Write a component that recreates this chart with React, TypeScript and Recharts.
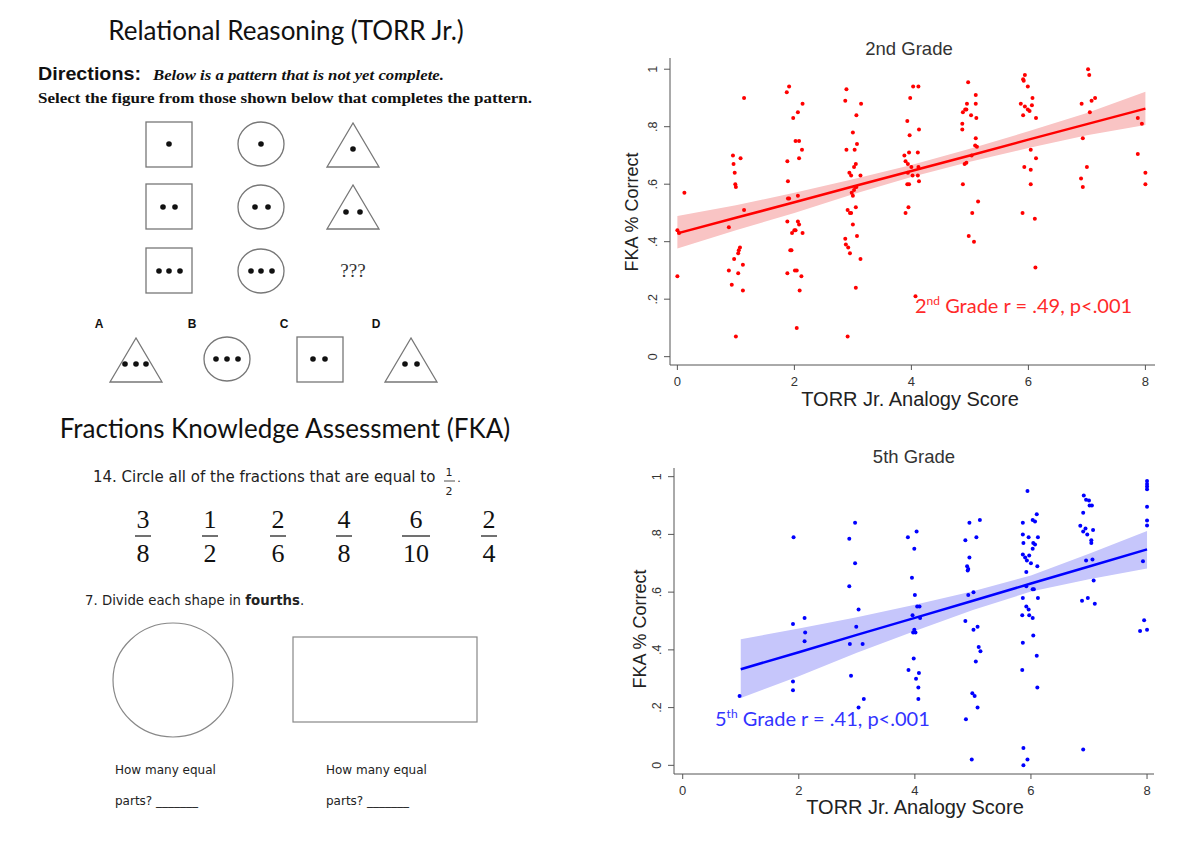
import React from 'react';
import { ComposedChart, Scatter, Line, Area, XAxis, YAxis } from 'recharts';

// axis ticks shared by both panels
const xTicks = [0, 2, 4, 6, 8];
const yTicks = [0, 0.2, 0.4, 0.6, 0.8, 1];

// 2nd grade: [TORR Jr. analogy score (jittered), FKA % correct]
const grade2Points: [number, number][] = [
  [0, 0.44], [0.03, 0.43], [0.12, 0.57], [0, 0.28],
  [1.14, 0.9], [0.95, 0.7], [1.08, 0.69], [0.96, 0.67], [0.98, 0.64], [0.99, 0.6], [1.0, 0.59], [1.14, 0.51],
  [0.88, 0.45], [1.07, 0.38], [1.05, 0.37], [1.04, 0.36], [0.97, 0.34], [1.12, 0.32], [0.88, 0.3], [1.04, 0.29],
  [0.93, 0.25], [1.12, 0.23], [1.0, 0.07],
  [1.91, 0.94], [1.87, 0.92], [2.14, 0.88], [2.06, 0.85], [1.98, 0.83], [2.02, 0.75], [2.08, 0.75], [2.13, 0.72],
  [1.88, 0.68], [2.08, 0.69], [1.89, 0.61], [1.89, 0.55], [1.91, 0.55], [2.06, 0.56], [1.88, 0.47], [2.06, 0.47],
  [2.08, 0.46], [2.02, 0.44], [2.0, 0.44], [2.14, 0.43], [1.96, 0.43], [1.93, 0.37], [1.95, 0.37], [1.88, 0.29],
  [2.01, 0.3], [2.04, 0.3], [2.12, 0.28], [2.09, 0.23], [2.04, 0.1],
  [2.89, 0.93], [2.87, 0.89], [3.14, 0.88], [3.06, 0.84], [3.0, 0.78], [3.07, 0.74], [2.89, 0.72], [3.03, 0.72],
  [3.05, 0.67], [3.02, 0.66], [2.94, 0.64], [2.97, 0.63], [3.13, 0.63], [3.04, 0.59], [3.06, 0.59], [3.02, 0.58],
  [2.98, 0.57], [3.0, 0.56], [2.91, 0.51], [2.95, 0.5], [2.97, 0.5], [3.05, 0.52], [3.0, 0.46], [3.07, 0.42],
  [2.87, 0.41], [2.88, 0.39], [2.92, 0.38], [2.95, 0.36], [3.13, 0.34], [3.05, 0.24], [2.91, 0.07],
  [4.03, 0.94], [4.12, 0.94], [3.98, 0.9], [3.93, 0.82], [4.13, 0.79], [3.97, 0.77], [3.88, 0.7], [3.96, 0.71],
  [4.11, 0.71], [3.9, 0.68], [3.94, 0.67], [4.0, 0.66], [4.12, 0.66], [3.94, 0.64], [4.02, 0.63], [4.11, 0.63],
  [4.13, 0.61], [3.93, 0.6], [3.96, 0.6], [3.95, 0.52], [3.9, 0.5], [4.07, 0.21],
  [4.97, 0.955], [5.1, 0.91], [4.95, 0.88], [5.1, 0.88], [4.92, 0.86], [4.88, 0.85], [4.94, 0.86], [5.02, 0.84],
  [5.11, 0.83], [4.87, 0.81], [4.87, 0.79], [5.1, 0.76], [5.09, 0.735], [5.12, 0.73], [5.03, 0.7], [4.94, 0.675],
  [4.91, 0.67], [4.88, 0.6], [5.14, 0.54], [5.04, 0.5], [4.98, 0.42], [5.07, 0.4],
  [5.94, 0.98], [5.91, 0.965], [5.92, 0.96], [5.99, 0.94], [6.07, 0.9], [5.87, 0.88], [5.94, 0.87], [6.06, 0.875],
  [5.99, 0.86], [6.02, 0.855], [5.91, 0.84], [6.13, 0.83], [6.04, 0.72], [6.13, 0.69], [5.93, 0.66], [6.04, 0.65],
  [6.04, 0.6], [5.9, 0.5], [6.11, 0.48], [6.12, 0.31],
  [7.02, 1.0], [7.04, 0.98], [6.91, 0.88], [7.14, 0.9], [7.08, 0.89], [7.05, 0.85], [6.93, 0.76], [7.0, 0.66],
  [6.9, 0.62], [6.93, 0.59],
  [7.87, 0.83], [7.94, 0.81], [7.87, 0.705], [8.0, 0.64], [8.0, 0.6],
];

// 2nd grade fitted line and 95% CI, read at each score
const grade2FitX = [0, 1, 2, 3, 4, 5, 6, 7, 8];
const grade2Fit = [0.429, 0.483, 0.537, 0.592, 0.646, 0.7, 0.755, 0.809, 0.863];
const grade2Lo = [0.376, 0.44, 0.5, 0.565, 0.625, 0.678, 0.726, 0.77, 0.806];
const grade2Hi = [0.489, 0.527, 0.57, 0.617, 0.667, 0.723, 0.784, 0.848, 0.922];

// 5th grade: [TORR Jr. analogy score (jittered), FKA % correct]
const grade5Points: [number, number][] = [
  [0.98, 0.24],
  [1.91, 0.79], [1.9, 0.49], [2.1, 0.51], [2.11, 0.46], [2.1, 0.43], [1.9, 0.29], [1.9, 0.26],
  [2.97, 0.84], [2.87, 0.785], [2.97, 0.7], [2.87, 0.62], [3.03, 0.54], [2.99, 0.48], [2.88, 0.42], [3.1, 0.42],
  [2.9, 0.31], [3.12, 0.23], [3.03, 0.2],
  [4.03, 0.81], [3.88, 0.79], [3.99, 0.75], [3.95, 0.65], [4.0, 0.59], [4.04, 0.55], [4.08, 0.55], [3.96, 0.52],
  [4.09, 0.51], [3.99, 0.47], [3.97, 0.46], [4.01, 0.46], [3.98, 0.37], [3.89, 0.33], [4.07, 0.32], [4.02, 0.3],
  [4.06, 0.27], [4.06, 0.23],
  [4.94, 0.84], [5.12, 0.85], [4.87, 0.78], [5.06, 0.79], [4.94, 0.72], [4.9, 0.69], [4.92, 0.68], [4.91, 0.675],
  [4.92, 0.59], [5.01, 0.6], [4.87, 0.5], [5.01, 0.47], [5.08, 0.48], [5.1, 0.41], [5.13, 0.395], [5.05, 0.36],
  [4.99, 0.25], [5.03, 0.24], [5.08, 0.2], [4.88, 0.16], [4.98, 0.02],
  [5.94, 0.95], [5.86, 0.84], [6.1, 0.87], [6.03, 0.85], [6.07, 0.845], [5.86, 0.8], [5.96, 0.79], [6.12, 0.79],
  [5.87, 0.77], [6.04, 0.77], [6.07, 0.765], [6.03, 0.75], [5.86, 0.73], [5.97, 0.727], [5.9, 0.72], [5.93, 0.71],
  [6.0, 0.7], [6.11, 0.69], [5.92, 0.67], [5.92, 0.62], [6.03, 0.61], [6.05, 0.61], [5.86, 0.58], [6.12, 0.58],
  [5.92, 0.55], [5.96, 0.54], [5.85, 0.52], [5.97, 0.52], [6.03, 0.51], [6.04, 0.45], [5.86, 0.425], [6.1, 0.38],
  [5.85, 0.33], [6.11, 0.27], [5.87, 0.06], [5.94, 0.02], [5.87, 0.0],
  [6.91, 0.935], [6.95, 0.92], [7.0, 0.917], [7.05, 0.9], [7.01, 0.9], [6.9, 0.875], [6.85, 0.83], [6.94, 0.82],
  [6.9, 0.81], [6.97, 0.8], [7.07, 0.815], [7.04, 0.78], [7.04, 0.77], [6.95, 0.71], [7.06, 0.713], [7.08, 0.64],
  [6.88, 0.57], [6.98, 0.58], [7.1, 0.56], [6.9, 0.055],
  [8.0, 0.985], [8.0, 0.975], [8.0, 0.966], [8.0, 0.956], [8.0, 0.896], [8.0, 0.848], [8.0, 0.831], [7.93, 0.707],
  [7.88, 0.465], [7.95, 0.503], [8.0, 0.47],
];

const grade5FitX = [1, 2, 3, 4, 5, 6, 7, 8];
const grade5Fit = [0.333, 0.392, 0.452, 0.511, 0.57, 0.63, 0.689, 0.748];
const grade5Lo = [0.233, 0.309, 0.39, 0.465, 0.538, 0.602, 0.645, 0.682];
const grade5Hi = [0.437, 0.474, 0.513, 0.556, 0.603, 0.658, 0.733, 0.812];

const AXIS = '#555';
const ARIAL = '"Liberation Sans", Arial, sans-serif';
const CALIBRI = 'Lato, "Open Sans", sans-serif';
const SERIF = '"Liberation Serif", "Times New Roman", serif';
const COMIC = '"DejaVu Sans", sans-serif';

const fmtY = (v: number) => (v === 0 ? '0' : v === 1 ? '1' : String(v).replace(/^0/, ''));

const YTick = (props: any) => {
  const { x, y, payload } = props;
  const tx = x - 5;
  return (
    <text x={tx} y={y} transform={`rotate(-90, ${tx}, ${y})`} textAnchor="middle"
      fontSize={12.5} fill="#333" fontFamily={ARIAL}>
      {fmtY(payload.value)}
    </text>
  );
};

function GradePlot(props: any) {
  const { left, top, margin, xDomain, yDomain, points, fitX, fit, lo, hi, color, band } = props;
  const fitRows = fitX.map((x: number, i: number) => ({ x, fit: fit[i], band: [lo[i], hi[i]] }));
  const scatter = points.map(([x, y]: [number, number]) => ({ x, y }));
  return (
    <div style={{ position: 'absolute', left, top }}>
      <ComposedChart width={580} height={390} data={fitRows} margin={margin}>
        <XAxis type="number" dataKey="x" domain={xDomain} ticks={xTicks} allowDataOverflow
          height={30} tickSize={5} tickMargin={7}
          axisLine={{ stroke: AXIS }} tickLine={{ stroke: AXIS }}
          tick={{ fontSize: 13, fill: '#333', fontFamily: ARIAL }} />
        <YAxis type="number" dataKey="y" domain={yDomain} ticks={yTicks} allowDataOverflow
          width={40} tickSize={6} axisLine={{ stroke: AXIS }} tickLine={{ stroke: AXIS }}
          tick={<YTick />} />
        <Area dataKey="band" type="linear" fill={band} fillOpacity={1} stroke="none" isAnimationActive={false} />
        <Scatter data={scatter} fill={color} isAnimationActive={false}
          shape={(p: any) => <circle cx={p.cx} cy={p.cy} r={2} fill={color} />} />
        <Line dataKey="fit" type="linear" stroke={color} strokeWidth={2.5} dot={false} isAnimationActive={false} />
      </ComposedChart>
    </div>
  );
}

const Square = ({ x, y }: { x: number; y: number }) => (
  <rect x={x} y={y} width={46} height={45} fill="none" stroke="#777" strokeWidth={1.3} />
);
const Circ = ({ cx, cy }: { cx: number; cy: number }) => (
  <ellipse cx={cx} cy={cy} rx={23} ry={22} fill="none" stroke="#777" strokeWidth={1.3} />
);
const Tri = ({ cx, top }: { cx: number; top: number }) => (
  <polygon points={`${cx},${top} ${cx - 26},${top + 44} ${cx + 26},${top + 44}`} fill="none" stroke="#777" strokeWidth={1.3} />
);
const Dots = ({ xs, y }: { xs: number[]; y: number }) => (
  <g>{xs.map((x, i) => <circle key={i} cx={x} cy={y} r={2.8} fill="#111" />)}</g>
);

const Frac = ({ x, n, d }: { x: number; n: string; d: string }) => (
  <g fontFamily={SERIF} fontSize={26} fill="#111" textAnchor="middle">
    <text x={x} y={528}>{n}</text>
    <line x1={x - (d.length > 1 ? 14 : 8)} x2={x + (d.length > 1 ? 14 : 8)} y1={536} y2={536} stroke="#111" strokeWidth={1.2} />
    <text x={x} y={562}>{d}</text>
  </g>
);

export default function App() {
  return (
    <div style={{ position: 'absolute', left: 0, top: 0, width: 1191, height: 841, background: '#fff', overflow: 'hidden' }}>
      <GradePlot left={600} top={30} margin={{ top: 28, right: 25, left: 30, bottom: 25 }}
        xDomain={[-0.126, 8.164]} yDomain={[-0.029, 1.039]}
        points={grade2Points} fitX={grade2FitX} fit={grade2Fit} lo={grade2Lo} hi={grade2Hi}
        color="#ff0000" band="#f9c4c4" />
      <GradePlot left={600} top={440} margin={{ top: 28, right: 26, left: 34, bottom: 26 }}
        xDomain={[-0.15, 8.12]} yDomain={[-0.03, 1.03]}
        points={grade5Points} fitX={grade5FitX} fit={grade5Fit} lo={grade5Lo} hi={grade5Hi}
        color="#0000ff" band="#c6c6fb" />

      <svg width={1191} height={841} style={{ position: 'absolute', left: 0, top: 0, pointerEvents: 'none' }}>
        {/* chart titles and axis labels */}
        <text x={909} y={55} textAnchor="middle" fontFamily={ARIAL} fontSize={18.5} fill="#333">2nd Grade</text>
        <text x={914} y={463} textAnchor="middle" fontFamily={ARIAL} fontSize={18.5} fill="#333">5th Grade</text>
        <text x={910} y={406} textAnchor="middle" fontFamily={ARIAL} fontSize={20} fill="#222">TORR Jr. Analogy Score</text>
        <text x={915} y={814} textAnchor="middle" fontFamily={ARIAL} fontSize={20} fill="#222">TORR Jr. Analogy Score</text>
        <text x={638} y={212} transform="rotate(-90, 638, 212)" textAnchor="middle" fontFamily={ARIAL} fontSize={18} fill="#222">FKA % Correct</text>
        <text x={646} y={629} transform="rotate(-90, 646, 629)" textAnchor="middle" fontFamily={ARIAL} fontSize={18} fill="#222">FKA % Correct</text>
        <text x={915} y={313} fontFamily={CALIBRI} fontSize={20} fill="#ff2a2a">
          2<tspan dy={-8} fontSize={12}>nd</tspan><tspan dy={8}> Grade r = .49, p&lt;.001</tspan>
        </text>
        <text x={715} y={726} fontFamily={CALIBRI} fontSize={20} fill="#3333ff">
          5<tspan dy={-8} fontSize={12}>th</tspan><tspan dy={8}>{'  Grade r = .41, p<.001'}</tspan>
        </text>

        {/* Relational reasoning item */}
        <text x={286} y={40} textAnchor="middle" fontFamily={CALIBRI} fontSize={26} fill="#111">Relational Reasoning (TORR Jr.)</text>
        <text x={38} y={80} fontFamily={ARIAL} fontWeight="bold" fontSize={18.5} fill="#111" textLength={103} lengthAdjust="spacingAndGlyphs">Directions:</text>
        <text x={153} y={80} fontFamily={SERIF} fontWeight="bold" fontStyle="italic" fontSize={15.5} fill="#111" textLength={291} lengthAdjust="spacingAndGlyphs">Below is a pattern that is not yet complete.</text>
        <text x={38} y={103} fontFamily={SERIF} fontWeight="bold" fontSize={15.5} fill="#111" textLength={494} lengthAdjust="spacingAndGlyphs">Select the figure from those shown below that completes the pattern.</text>

        <Square x={146} y={122} /><Dots xs={[169]} y={144} />
        <Circ cx={261} cy={144} /><Dots xs={[261]} y={144} />
        <Tri cx={353} top={123} /><Dots xs={[353]} y={149} />

        <Square x={146} y={184} /><Dots xs={[163, 175]} y={207} />
        <Circ cx={261} cy={207} /><Dots xs={[255, 268]} y={207} />
        <Tri cx={353} top={185} /><Dots xs={[346, 360]} y={212} />

        <Square x={146} y={248} /><Dots xs={[159, 169, 180]} y={271} />
        <Circ cx={261} cy={271} /><Dots xs={[251, 261, 272]} y={271} />
        <text x={353} y={277} textAnchor="middle" fontFamily={SERIF} fontSize={19} fill="#333">???</text>

        <g fontFamily={ARIAL} fontWeight="bold" fontSize={12} fill="#111" textAnchor="middle">
          <text x={99} y={328}>A</text>
          <text x={192} y={328}>B</text>
          <text x={284} y={328}>C</text>
          <text x={376} y={328}>D</text>
        </g>
        <Tri cx={136} top={338} /><Dots xs={[125, 136, 146]} y={364} />
        <Circ cx={227} cy={359} /><Dots xs={[216, 227, 238]} y={359} />
        <Square x={297} y={337} /><Dots xs={[313, 325]} y={359} />
        <Tri cx={411} top={338} /><Dots xs={[405, 417]} y={364} />

        {/* Fractions knowledge items */}
        <text x={285} y={438} textAnchor="middle" fontFamily={CALIBRI} fontSize={26} fill="#111">Fractions Knowledge Assessment (FKA)</text>
        <text x={93} y={482} fontFamily={COMIC} fontSize={15} fill="#222">14.  Circle all of the fractions that are equal to</text>
        <g fontFamily={COMIC} fontSize={11} fill="#222" textAnchor="middle">
          <text x={449} y={476}>1</text>
          <line x1={444} x2={455} y1={481} y2={481} stroke="#222" strokeWidth={0.8} />
          <text x={449} y={495}>2</text>
          <text x={459} y={482}>.</text>
        </g>
        <Frac x={143} n="3" d="8" />
        <Frac x={210} n="1" d="2" />
        <Frac x={278} n="2" d="6" />
        <Frac x={344} n="4" d="8" />
        <Frac x={416} n="6" d="10" />
        <Frac x={489} n="2" d="4" />

        <text x={85} y={605} fontFamily={COMIC} fontSize={13.3} fill="#222">7.   Divide each shape in <tspan fontWeight="bold">fourths</tspan>.</text>
        <ellipse cx={173} cy={680} rx={60} ry={57} fill="none" stroke="#888" strokeWidth={1.2} />
        <rect x={293} y={637} width={184} height={85} fill="none" stroke="#888" strokeWidth={1.2} />
        <g fontFamily={COMIC} fontSize={12} fill="#222">
          <text x={115} y={774}>How many equal</text>
          <text x={115} y={805}>parts? _______</text>
          <text x={326} y={774}>How many equal</text>
          <text x={326} y={805}>parts? _______</text>
        </g>
      </svg>
    </div>
  );
}
